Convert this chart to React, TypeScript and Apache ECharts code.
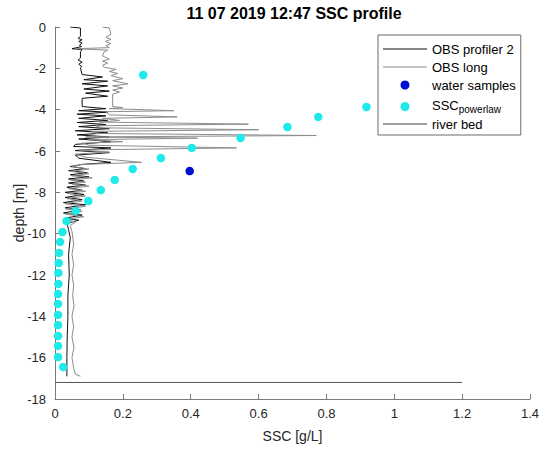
import React, { useEffect, useRef } from "react";
import * as echarts from "echarts";

// OBS profiler 2 (black trace)
const profilerSSC = [
  0.045, 0.075, 0.075, 0.068, 0.08, 0.07, 0.08, 0.072, 0.078, 0.05, 0.08, 0.075, 0.075, 0.068, 0.08, 0.07,
  0.078, 0.075, 0.08, 0.14, 0.085, 0.155, 0.08, 0.155, 0.085, 0.16, 0.09, 0.155, 0.08, 0.08, 0.15, 0.07,
  0.155, 0.065, 0.15, 0.07, 0.155, 0.065, 0.15, 0.07, 0.16, 0.06, 0.155, 0.065, 0.16, 0.07, 0.165, 0.06,
  0.055, 0.165, 0.06, 0.16, 0.06, 0.07, 0.165, 0.08, 0.045, 0.09, 0.04, 0.095, 0.045, 0.1, 0.04, 0.085,
  0.04, 0.09, 0.035, 0.08, 0.03, 0.085, 0.03, 0.08, 0.025, 0.09, 0.03, 0.075, 0.025, 0.08, 0.03, 0.07,
  0.035, 0.04, 0.045, 0.04, 0.042, 0.038, 0.038, 0.036, 0.035, 0.035,
];
const profilerDepth = [
  0, -0.05, -0.45, -0.55, -0.62, -0.7, -0.78, -0.88, -0.95, -1.05, -1.1, -1.2, -1.5, -1.6, -1.7, -1.8,
  -1.9, -2.0, -2.3, -2.42, -2.55, -2.62, -2.75, -2.85, -3.0, -3.1, -3.2, -3.35, -3.45, -3.85, -3.95, -4.05,
  -4.12, -4.22, -4.3, -4.42, -4.52, -4.62, -4.72, -4.82, -4.92, -5.02, -5.12, -5.22, -5.32, -5.42, -5.55, -5.68,
  -5.78, -5.85, -5.98, -6.08, -6.2, -6.35, -6.55, -6.65, -6.75, -6.85, -6.95, -7.05, -7.15, -7.25, -7.35, -7.45,
  -7.55, -7.65, -7.75, -7.9, -8.0, -8.1, -8.25, -8.35, -8.5, -8.6, -8.75, -8.85, -9.0, -9.1, -9.25, -9.35,
  -9.5, -9.8, -10.2, -11.0, -12.0, -13.0, -14.0, -15.0, -16.0, -16.9,
];

// OBS long (grey trace)
const longSSC = [
  0.14, 0.16, 0.165, 0.15, 0.165, 0.148, 0.165, 0.15, 0.16, 0.06, 0.155, 0.145, 0.14, 0.16, 0.14, 0.155,
  0.14, 0.145, 0.18, 0.16, 0.185, 0.165, 0.2, 0.17, 0.215, 0.17, 0.2, 0.17, 0.19, 0.17, 0.17, 0.2,
  0.16, 0.35, 0.15, 0.16, 0.36, 0.14, 0.19, 0.13, 0.57, 0.12, 0.14, 0.6, 0.11, 0.12, 0.77, 0.09,
  0.42, 0.1, 0.2, 0.08, 0.1, 0.535, 0.07, 0.16, 0.06, 0.09, 0.255, 0.08, 0.05, 0.1, 0.045, 0.1,
  0.05, 0.11, 0.045, 0.09, 0.05, 0.1, 0.04, 0.09, 0.035, 0.09, 0.035, 0.08, 0.03, 0.09, 0.03, 0.08,
  0.03, 0.085, 0.035, 0.06, 0.045, 0.05, 0.055, 0.05, 0.055, 0.05, 0.055, 0.052, 0.056, 0.05, 0.055, 0.05,
  0.056, 0.05, 0.055, 0.06, 0.075,
];
const longDepth = [
  0, -0.05, -0.35, -0.5, -0.6, -0.7, -0.8, -0.9, -1.0, -1.05, -1.12, -1.2, -1.4, -1.55, -1.65, -1.75,
  -1.85, -1.95, -2.05, -2.15, -2.25, -2.35, -2.5, -2.6, -2.75, -2.85, -2.95, -3.05, -3.15, -3.25, -3.85, -3.9,
  -3.95, -4.05, -4.1, -4.25, -4.35, -4.42, -4.52, -4.6, -4.7, -4.78, -4.88, -4.97, -5.05, -5.15, -5.25, -5.32,
  -5.38, -5.45, -5.55, -5.62, -5.72, -5.85, -5.95, -6.05, -6.15, -6.3, -6.55, -6.65, -6.75, -6.88, -6.98, -7.1,
  -7.2, -7.3, -7.4, -7.5, -7.6, -7.7, -7.82, -7.95, -8.05, -8.18, -8.3, -8.42, -8.55, -8.68, -8.8, -8.92,
  -9.05, -9.18, -9.3, -9.45, -9.6, -9.9, -10.5, -11.0, -11.5, -12.0, -12.5, -13.0, -13.5, -14.0, -14.5, -15.0,
  -15.5, -16.0, -16.5, -16.8, -16.9,
];

// water samples
const sampleSSC = [0.397];
const sampleDepth = [-6.97];

// SSC powerlaw
const powerlawSSC = [
  0.26, 0.918, 0.776, 0.685, 0.547, 0.403, 0.312, 0.229, 0.176, 0.135, 0.098, 0.061, 0.034, 0.022,
  0.015, 0.012, 0.011, 0.01, 0.01, 0.009, 0.009, 0.009, 0.009, 0.009, 0.009, 0.009, 0.024,
];
const powerlawDepth = [
  -2.32, -3.87, -4.35, -4.84, -5.37, -5.85, -6.34, -6.87, -7.4, -7.89, -8.42, -8.9, -9.39, -9.92,
  -10.4, -10.93, -11.42, -11.9, -12.43, -12.92, -13.4, -13.93, -14.42, -14.95, -15.43, -15.97, -16.45,
];

// river bed
const riverBedSSC = [0, 1.2];
const riverBedDepth = [-17.2, -17.2];

const xTicks = { min: 0, max: 1.4, interval: 0.2 };
const yTicks = { min: -18, max: 0, interval: 2 };

const F = "'Liberation Sans', Arial, Helvetica, sans-serif";
const AX = "#7a7a7a";
const TXT = "#262626";
const LINE_ICON = "path://M0,0H44V1H0Z";

const pairs = (xs: number[], ys: number[]) => xs.map((x, i) => [x, ys[i]]);

export default function App() {
  const ref = useRef<HTMLDivElement>(null);
  useEffect(() => {
    const chart = echarts.init(ref.current!, null, { renderer: "svg" });
    chart.setOption({
      animation: false,
      backgroundColor: "#fff",
      title: {
        text: "11 07 2019 12:47 SSC profile",
        left: 289,
        top: 0,
        textAlign: "center",
        textStyle: { fontFamily: F, fontSize: 16, fontWeight: "bold", color: "#000" },
      },
      grid: { left: 55, right: 12, top: 27, bottom: 51, containLabel: false, outerBoundsMode: "none" },
      xAxis: {
        type: "value",
        min: xTicks.min,
        max: xTicks.max,
        interval: xTicks.interval,
        name: "SSC [g/L]",
        nameLocation: "middle",
        nameGap: 30,
        nameTextStyle: { fontFamily: F, fontSize: 14, color: TXT },
        axisLine: { show: true, onZero: false, lineStyle: { color: AX, width: 1 } },
        axisTick: { show: true, inside: true, length: 5, lineStyle: { color: AX } },
        axisLabel: { margin: 8, fontFamily: F, fontSize: 13, color: TXT },
        splitLine: { show: false },
      },
      yAxis: {
        type: "value",
        min: yTicks.min,
        max: yTicks.max,
        interval: yTicks.interval,
        name: "depth [m]",
        nameLocation: "middle",
        nameGap: 29,
        nameMoveOverlap: false,
        nameTextStyle: { fontFamily: F, fontSize: 14, color: TXT },
        axisLine: { show: true, onZero: false, lineStyle: { color: AX, width: 1 } },
        axisTick: { show: true, inside: true, length: 5, lineStyle: { color: AX } },
        axisLabel: { margin: 9, fontFamily: F, fontSize: 13, color: TXT },
        splitLine: { show: false },
      },
      legend: {
        left: 378,
        top: 35,
        orient: "vertical",
        padding: [6, 5, 3, 5],
        itemGap: 2,
        itemWidth: 44,
        itemHeight: 9,
        borderColor: "#6a6a6a",
        borderWidth: 1,
        backgroundColor: "#fff",
        selectedMode: false,
        textStyle: {
          fontFamily: F,
          fontSize: 13,
          lineHeight: 16,
          color: "#000",
          rich: {
            a: { fontFamily: F, fontSize: 13, lineHeight: 15, color: "#000", verticalAlign: "top" },
            b: { fontFamily: F, fontSize: 10, lineHeight: 12, color: "#000", padding: [9, 0, 0, 0], verticalAlign: "bottom" },
          },
        },
        formatter: (name: string) => (name === "SSCpowerlaw" ? "{a|SSC}{b|powerlaw}" : name),
        data: [
          { name: "OBS profiler 2", icon: LINE_ICON },
          { name: "OBS long", icon: LINE_ICON },
          { name: "water samples", icon: "circle" },
          { name: "SSCpowerlaw", icon: "circle" },
          { name: "river bed", icon: LINE_ICON },
        ],
      },
      series: [
        {
          name: "OBS profiler 2",
          type: "line",
          symbol: "none",
          data: pairs(profilerSSC, profilerDepth),
          lineStyle: { color: "#111", width: 1 },
          itemStyle: { color: "#111" },
          z: 2,
        },
        {
          name: "OBS long",
          type: "line",
          symbol: "none",
          data: pairs(longSSC, longDepth),
          lineStyle: { color: "#8c8c8c", width: 1 },
          itemStyle: { color: "#8c8c8c" },
          z: 2,
        },
        {
          name: "water samples",
          type: "scatter",
          symbol: "circle",
          symbolSize: 8.5,
          data: pairs(sampleSSC, sampleDepth),
          itemStyle: { color: "#0010d0", opacity: 1 },
          z: 3,
        },
        {
          name: "SSCpowerlaw",
          type: "scatter",
          symbol: "circle",
          symbolSize: 8.5,
          data: pairs(powerlawSSC, powerlawDepth),
          itemStyle: { color: "#1eeaea", opacity: 1 },
          z: 3,
        },
        {
          name: "river bed",
          type: "line",
          symbol: "none",
          data: pairs(riverBedSSC, riverBedDepth),
          lineStyle: { color: "#555", width: 1 },
          itemStyle: { color: "#4a4040" },
          z: 2,
        },
      ],
    });
    return () => chart.dispose();
  }, []);
  return (
    <div
      ref={ref}
      style={{ width: 542, height: 450, position: "absolute", left: 0, top: 0, background: "#fff" }}
    />
  );
}
